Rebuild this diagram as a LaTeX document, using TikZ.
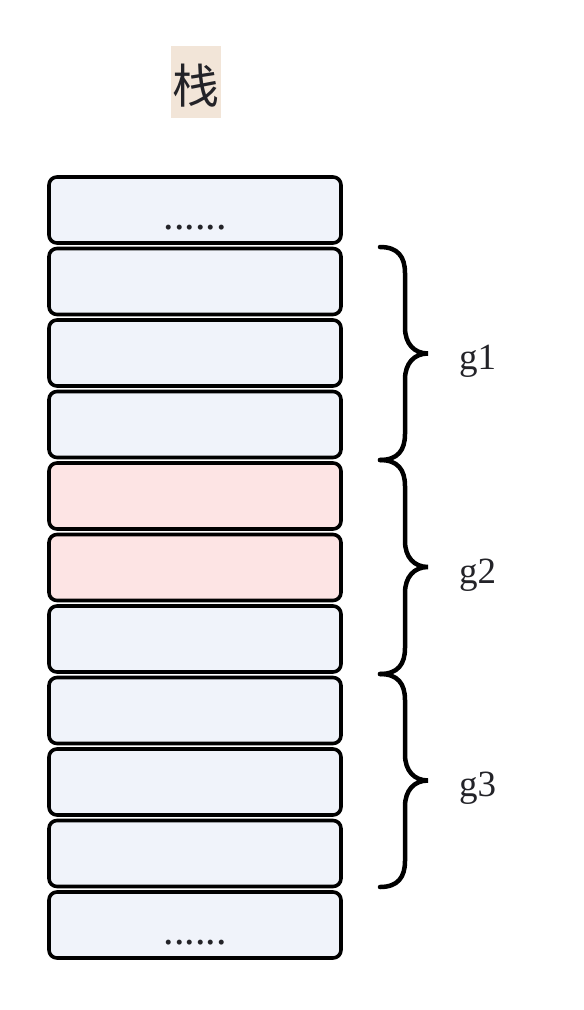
\documentclass[tikz,border=0pt]{standalone}
\usepackage{fontspec}
\newfontfamily\cjk{Noto Sans CJK SC}
\newfontfamily\lab{Liberation Serif}
\definecolor{cellblue}{RGB}{240,243,250}
\definecolor{cellpink}{RGB}{253,228,228}
\definecolor{titlebg}{RGB}{242,229,216}
\definecolor{txt}{RGB}{35,35,40}
\begin{document}
\begin{tikzpicture}[x=1pt,y=-1pt,
  cell/.style={draw=black,line width=3.6pt,rounded corners=8pt,fill=cellblue},
  pinkcell/.style={cell,fill=cellpink},
  bracepath/.style={draw=black,line width=4.5pt,line cap=round},
  glabel/.style={anchor=base west,inner sep=0pt,font=\lab\fontsize{37}{40}\selectfont,text=txt},
  dots/.style={anchor=base,inner sep=0pt,font=\lab\fontsize{42}{44}\selectfont,text=txt}]
\useasboundingbox (0,0) rectangle (584,1010);
% title
\fill[titlebg] (171,46) rectangle (221,118);
\node[inner sep=0pt,font=\cjk\fontsize{47}{50}\selectfont,text=txt] (title) at (196,86) {栈};
% cells
\foreach \i in {0,...,10}{
  \pgfmathsetmacro{\t}{177+71.5*\i}
  \pgfmathsetmacro{\b}{\t+66}
  \ifnum\i=4 \def\st{pinkcell}\else\ifnum\i=5 \def\st{pinkcell}\else\def\st{cell}\fi\fi
  \path[\st] (49,\t) rectangle (341,\b);
  \coordinate (c\i) at (195,\t+33);
}
\node[dots] (d1) at (195,229) {......};
\node[dots] (d2) at (195,944) {......};
% braces
\foreach \yt/\yb/\name in {247/460/g1,460/674/g2,674/887/g3}{
  \pgfmathsetmacro{\ym}{(\yt+\yb)/2}
  \draw[bracepath] (380,\yt) .. controls (398,\yt) and (405,\yt+10) .. (405,\yt+26)
     -- (405,\ym-26) .. controls (405,\ym-10) and (414,\ym) .. (428,\ym)
     .. controls (414,\ym) and (405,\ym+10) .. (405,\ym+26)
     -- (405,\yb-26) .. controls (405,\yb-10) and (398,\yb) .. (380,\yb);
  \node[glabel] (\name) at (459,\ym+16) {\name};
}
\end{tikzpicture}
\end{document}
